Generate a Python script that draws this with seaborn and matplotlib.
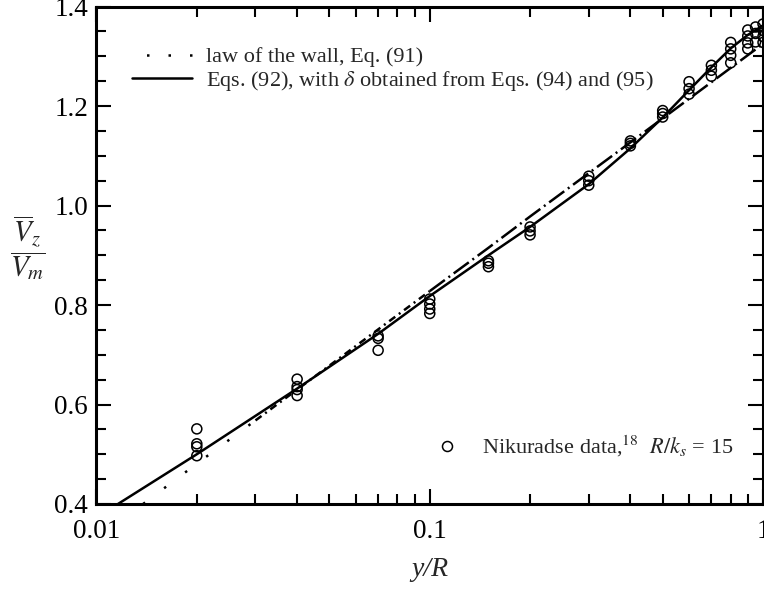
import matplotlib
matplotlib.use("Agg")
import matplotlib.pyplot as plt
from matplotlib.lines import Line2D
from matplotlib.ticker import FixedLocator, MultipleLocator, FixedFormatter, NullFormatter
import pandas as pd
import seaborn as sns

# Nikuradse data, R/ks = 15 (several readings per station)
nik_pos = [0.02, 0.04, 0.07, 0.1, 0.15, 0.2, 0.3, 0.4, 0.5, 0.6, 0.7, 0.8, 0.9, 0.95, 1.0]
nik_vals = [
    [0.551, 0.521, 0.515, 0.497],
    [0.651, 0.636, 0.630, 0.618],
    [0.738, 0.733, 0.709],
    [0.812, 0.802, 0.792, 0.783],
    [0.889, 0.884, 0.877],
    [0.957, 0.949, 0.941],
    [1.059, 1.050, 1.041],
    [1.130, 1.125, 1.120],
    [1.191, 1.185, 1.178],
    [1.249, 1.235, 1.224],
    [1.282, 1.272, 1.260],
    [1.328, 1.315, 1.302, 1.287],
    [1.353, 1.341, 1.327, 1.315],
    [1.359, 1.346, 1.329],
    [1.365, 1.352, 1.340, 1.328],
]

# law of the wall, Eq. (91)
wall_x = [0.0138, 0.02, 0.03, 0.04, 0.1, 0.15, 0.2, 0.4, 0.7, 1.0]
wall_y = [0.400, 0.481, 0.568, 0.630, 0.828, 0.915, 0.978, 1.127, 1.248, 1.325]

# Eqs. (92) with delta from Eqs. (94) and (95)
eq92_x = [0.0116, 0.02, 0.04, 0.07, 0.1, 0.15, 0.2, 0.3, 0.4, 0.5, 0.6, 0.7, 0.8, 0.9, 1.0]
eq92_y = [0.400, 0.500, 0.632, 0.742, 0.818, 0.900, 0.957, 1.043, 1.115, 1.177,
          1.232, 1.278, 1.316, 1.343, 1.362]

x_ticks = [0.01, 0.1, 1]
x_labels = ["0.01", "0.1", "1"]
y_ticks = [0.4, 0.6, 0.8, 1.0, 1.2, 1.4]
y_labels = ["0.4", "0.6", "0.8", "1.0", "1.2", "1.4"]

legend_labels = [
    "law of the wall, Eq. (91)",
    r"Eqs. (92), with $\delta$ obtained from Eqs. (94) and (95)",
]
nik_label = r"Nikuradse data,$^{18}$  $R/k_s$ = 15"

sns.set_style("ticks")
plt.rcParams["font.family"] = ["Liberation Serif", "DejaVu Serif"]
plt.rcParams["mathtext.fontset"] = "stix"

nik = pd.DataFrame({"pos": nik_pos, "val": nik_vals}).explode("val")
nik["val"] = nik["val"].astype(float)
wall = pd.DataFrame({"x": wall_x, "y": wall_y})
eq92 = pd.DataFrame({"x": eq92_x, "y": eq92_y})

fig = plt.figure(figsize=(7.64, 5.90), dpi=100)
ax = fig.add_axes([0.1263, 0.1458, 0.8724, 0.843])

lw = 1.8
# law of the wall drawn in pieces: dotted near the wall, dash-dot further out
pieces = [((0.0, 0.03), (0, (1.0, 9.5))),
          ((0.03, 0.1), (0, (3.0, 1.8, 0.8, 1.8))),
          ((0.1, 1.01), (0, (7.5, 1.8, 0.8, 1.8)))]
for (lo, hi), ls in pieces:
    seg = wall[(wall["x"] >= lo) & (wall["x"] <= hi)]
    sns.lineplot(data=seg, x="x", y="y", ax=ax, color="black", lw=lw,
                 sort=False, estimator=None)
    ax.lines[-1].set_linestyle(ls)

sns.lineplot(data=eq92, x="x", y="y", ax=ax, color="black", lw=lw,
             sort=False, estimator=None)

sns.scatterplot(data=nik, x="pos", y="val", ax=ax, marker="o", s=52,
                facecolor="none", edgecolor="black", linewidth=1.1, zorder=3)

ax.set_xscale("log")
ax.set_xlim(0.01, 1)
ax.set_ylim(0.4, 1.4)

ax.xaxis.set_major_locator(FixedLocator(x_ticks))
ax.xaxis.set_major_formatter(FixedFormatter(x_labels))
ax.xaxis.set_minor_formatter(NullFormatter())
ax.yaxis.set_major_locator(FixedLocator(y_ticks))
ax.yaxis.set_major_formatter(FixedFormatter(y_labels))
ax.yaxis.set_minor_locator(MultipleLocator(0.05))

for side in ["left", "right", "top", "bottom"]:
    ax.spines[side].set_linewidth(2.2)
    ax.spines[side].set_color("black")
ax.tick_params(which="both", direction="in", top=True, right=True,
               colors="black", labelsize=19.5, width=1.5)
ax.tick_params(which="major", length=11)
ax.tick_params(which="minor", length=7)
ax.tick_params(axis="x", which="major", pad=11)
ax.tick_params(axis="y", which="major", pad=6)

ax.set_xlabel("y/R", fontsize=20, fontstyle="italic", labelpad=9)
ax.set_ylabel(r"$\dfrac{\overline{V}_z}{V_m}$", fontsize=21, rotation=0,
              ha="center", va="center")
ax.yaxis.set_label_coords(-0.103, 0.515)

handles = [
    Line2D([], [], color="black", lw=lw, linestyle=(2.8, (1.0, 7.6))),
    Line2D([], [], color="black", lw=lw),
]
leg = ax.legend(handles, legend_labels, loc="center left",
                bbox_to_anchor=(0.053, 0.873), frameon=False, fontsize=16,
                handlelength=2.7, handletextpad=0.62, labelspacing=0.05,
                borderpad=0, borderaxespad=0)
ax.add_artist(leg)

nik_handle = Line2D([], [], marker="o", ls="none", markersize=7.2,
                    markerfacecolor="none", markeredgecolor="black",
                    markeredgewidth=1.1)
ax.legend([nik_handle], [nik_label], loc="center left",
          bbox_to_anchor=(0.51, 0.115), frameon=False, fontsize=16,
          handlelength=0.95, handletextpad=1.1, borderpad=0, borderaxespad=0)

fig.savefig("out.png", dpi=100)
